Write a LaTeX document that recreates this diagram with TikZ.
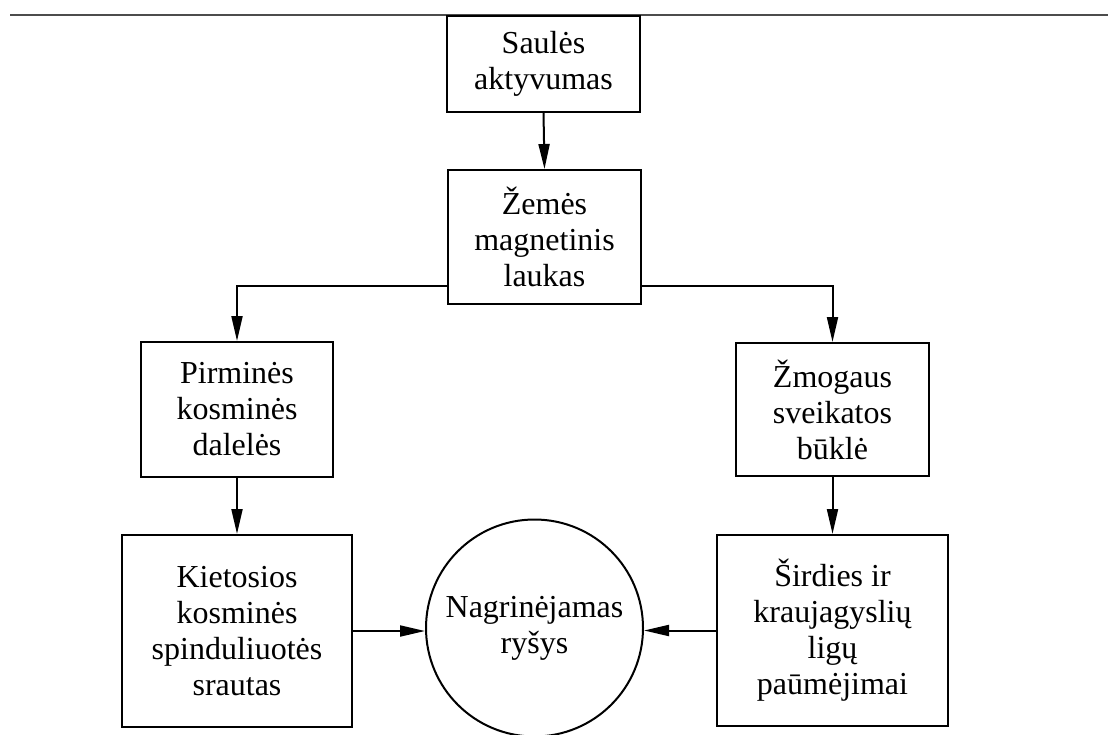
\documentclass[tikz,border=0pt]{standalone}
\usepackage{fontspec}
\setmainfont{Liberation Serif}
\usetikzlibrary{arrows.meta}
\begin{document}
\begin{tikzpicture}[x=1pt,y=-1pt,
  box/.style={draw,line width=2pt,rectangle,align=center,inner sep=0pt,
    font=\fontsize{32}{36}\selectfont},
  roundnode/.style={draw,line width=2pt,circle,align=center,inner sep=0pt,
    minimum size=217pt,font=\fontsize{32}{36}\selectfont},
  arr/.style={line width=2pt,-{Triangle[length=25pt,width=11pt]}}]
\useasboundingbox (0,0) rectangle (1108,734);
% header rule
\coordinate (ruleL) at (10,15);
\coordinate (ruleR) at (1108,15);
\draw[line width=1.3pt,black!70] (ruleL) -- (ruleR);
% boxes
\node[box,minimum width=193pt,minimum height=96pt] (sa) at (543.5,64) {Saulės\\aktyvumas};
\node[box,minimum width=193pt,minimum height=134pt] (ze) at (544.5,237) {Žemės\\magnetinis\\laukas};
\node[box,minimum width=192pt,minimum height=135pt] (pi) at (237,409.5) {Pirminės\\kosminės\\dalelės};
\node[box,minimum width=193pt,minimum height=133pt] (zm) at (832.5,409.5) {Žmogaus\\sveikatos\\būklė};
\node[box,minimum width=230pt,minimum height=192pt] (ki) at (237,631) {Kietosios\\kosminės\\spinduliuotės\\srautas};
\node[box,minimum width=231pt,minimum height=191pt] (si) at (832.5,630.5) {Širdies ir\\kraujagyslių\\ligų\\paūmėjimai};
\node[roundnode] (nr) at (534.5,628) {Nagrinėjamas\\ryšys};
% connectors
\draw[arr] (sa.south) -- (ze.north);
\draw[arr] ([yshift=19pt]ze.south west) -| (pi.north);
\draw[arr] ([yshift=19pt]ze.south east) -| (zm.north);
\draw[arr] (pi.south) -- (ki.north);
\draw[arr] (zm.south) -- (si.north);
\draw[arr] (ki.east) -- (ki.east -| nr.west);
\draw[arr] (si.west) -- (si.west -| nr.east);
\end{tikzpicture}
\end{document}
